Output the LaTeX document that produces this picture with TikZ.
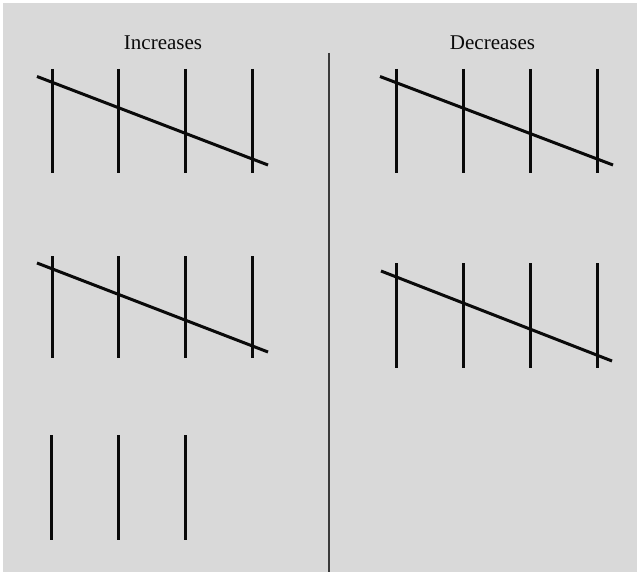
\documentclass[tikz,border=0pt]{standalone}
\usepackage{fontspec}
\setmainfont{Liberation Serif}
\definecolor{panelgray}{HTML}{D9D9D9}
\definecolor{inkdark}{HTML}{0A0A0A}
\definecolor{dividergray}{HTML}{3A3A3A}
\begin{document}
\begin{tikzpicture}[x=1pt,y=-1pt,
  tick/.style={draw=inkdark,line width=3pt},
  slash/.style={draw=inkdark,line width=3pt},
  heading/.style={font=\fontsize{21}{24}\selectfont,text=inkdark,anchor=base,inner sep=0pt}]
\useasboundingbox (0,0) rectangle (639,572);
\fill[white] (0,0) rectangle (639,572);
\fill[panelgray] (3,3) rectangle (637,572);
% divider
\draw[dividergray,line width=2.2pt] (329,53) -- (329,572);
% headings
\node[heading] (inc) at (163,49.5) {Increases};
\node[heading] (dec) at (492.5,49.5) {Decreases};
% top-left
\foreach \x in {52,118,185,252} \draw[tick] (\x,69) -- (\x,173);
\draw[slash] (37,76.5) -- (268,165);
% top-right
\foreach \x in {396,463,530,597} \draw[tick] (\x,69) -- (\x,173);
\draw[slash] (380,76.5) -- (613,165);
% middle-left
\foreach \x in {52,118,185,252} \draw[tick] (\x,256) -- (\x,358);
\draw[slash] (37,263) -- (268,352);
% middle-right
\foreach \x in {396,463,530,597} \draw[tick] (\x,263) -- (\x,368);
\draw[slash] (381,271) -- (612,361);
% bottom-left
\foreach \x in {51,118,185} \draw[tick] (\x,435) -- (\x,540);
\end{tikzpicture}
\end{document}
